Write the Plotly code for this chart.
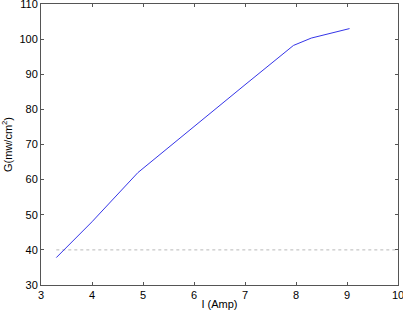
import plotly.graph_objects as go

current = [3.3, 4.0, 4.9, 5.5, 6.4, 7.0, 7.95, 8.3, 9.05]
g_values = [37.8, 48.0, 62.0, 69.2, 80.0, 87.0, 98.2, 100.3, 103.0]
ref_x = [3.3, 10.0]
ref_y = [40.0, 40.0]

fig = go.Figure()
fig.add_trace(go.Scatter(x=ref_x, y=ref_y, mode="lines",
                         line=dict(color="#b8b8b8", width=1, dash="dot"),
                         showlegend=False))
fig.add_trace(go.Scatter(x=current, y=g_values, mode="lines",
                         line=dict(color="#3535e8", width=1),
                         showlegend=False))

axis_common = dict(showline=True, linecolor="#555", linewidth=1, mirror="ticks",
                   ticks="inside", ticklen=3, tickcolor="#555", showgrid=False,
                   zeroline=False, automargin=False, ticklabeloverflow="allow",
                   tickfont=dict(size=11, color="black"))
fig.update_layout(
    width=403, height=315,
    margin=dict(l=41, r=5, t=4, b=30, autoexpand=False),
    paper_bgcolor="white", plot_bgcolor="white",
    font=dict(family="Liberation Sans, Arial", size=11, color="black"),
    xaxis=dict(range=[3, 10], dtick=1, title=dict(text="I (Amp)", standoff=0, font=dict(size=11)), **axis_common),
    yaxis=dict(range=[30, 110], dtick=10, title=dict(text="G(mw/cm<sup>2</sup>)", standoff=6, font=dict(size=11)), **axis_common),
)
fig.write_html("out.html", config={"displayModeBar": False},
               post_script="document.body.style.margin='0';document.body.style.overflow='hidden';")
